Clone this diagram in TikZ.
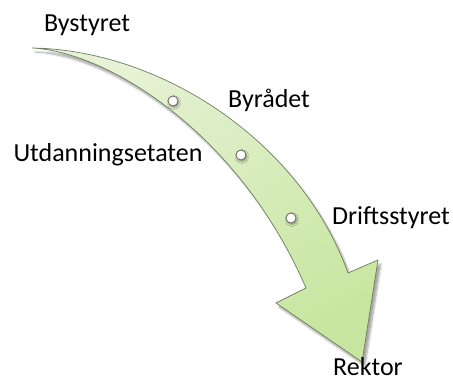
\documentclass[tikz,border=0pt]{standalone}
\usepackage{fontspec}
\setmainfont{Carlito}
\usetikzlibrary{shadows.blur}
\definecolor{arrlight}{HTML}{E6F2D6}
\definecolor{arrdark}{HTML}{C8E6A0}
\definecolor{arredge}{HTML}{6F7F5E}
\tikzset{
  lbl/.style={font=\fontsize{26}{30}\selectfont, inner sep=0pt, text=black},
  dot/.style={circle, draw=gray!80!black, fill=white, line width=0.8pt, minimum size=10pt, inner sep=0pt, blur shadow={shadow xshift=1pt, shadow yshift=-1.5pt, shadow blur steps=4, shadow opacity=40}},
}
\begin{document}
\begin{tikzpicture}[x=1pt,y=-1pt]
\useasboundingbox (0,0) rectangle (453,377);
% arrow shape
\coordinate (tail) at (32,48);
\coordinate (rs) at (348,273);
\coordinate (rp) at (378,260);
\coordinate (tip) at (362,362);
\coordinate (lp) at (276,303);
\coordinate (ls) at (306,288);
\path[blur shadow={shadow xshift=3pt, shadow yshift=-4pt, shadow opacity=35, shadow blur steps=6},
      draw=arredge, line width=0.7pt, line join=miter,
      top color=arrlight, bottom color=arrdark, shading angle=30]
  (tail) .. controls (160,50) and (300,140) .. (rs)
  -- (rp) -- (tip) -- (lp) -- (ls)
  .. controls (240,135) and (110,52) .. (tail) -- cycle;
% dots
\node[dot] (d1) at (173,101) {};
\node[dot] (d2) at (241,155) {};
\node[dot] (d3) at (291,218) {};
% labels
\node[lbl] (bystyret) at (87,25) {Bystyret};
\node[lbl] (byradet) at (269,100) {Byrådet};
\node[lbl] (utd) at (108,155) {Utdanningsetaten};
\node[lbl] (drift) at (391,218) {Driftsstyret};
\node[lbl, anchor=base] (rektor) at (368,375) {Rektor};
\end{tikzpicture}
\end{document}
